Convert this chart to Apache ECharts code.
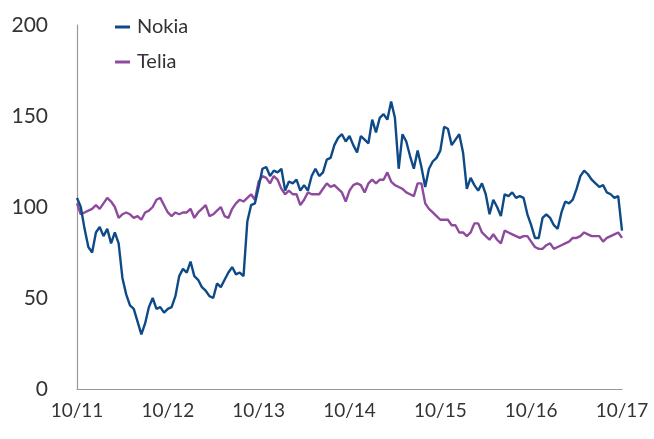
<!DOCTYPE html>
<html>
<head>
<meta charset="utf-8">
<script src="https://cdn.jsdelivr.net/npm/echarts@6/dist/echarts.min.js"></script>
<style>html,body{margin:0;padding:0;background:#fff}#c{width:654px;height:439px}</style>
</head>
<body>
<div id="c"></div>
<script>
// Half-month sampling from 10/11 to 10/17 (145 points)
const xTickLabels = ['10/11','10/12','10/13','10/14','10/15','10/16','10/17'];
const seriesNames = ['Nokia','Telia'];
const nokia = [105,100,88,78,75,86,89,84,88,80,86,80,61,52,46,44,37,30,36,45,
  50,44,45,42,44,45,51,62,66,64,70,62,60,56,54,51,50,58,56,60,
  64,67,63,64,62,92,101,102,111,121,122,117,120,119,121,109,114,113,115,109,
  112,109,117,121,117,119,126,127,134,138,140,136,139,134,130,139,137,135,148,141,
  149,151,148,158,149,121,140,136,128,121,131,122,111,121,125,127,131,144,143,134,
  137,140,130,110,116,112,109,113,107,96,104,100,95,107,106,108,105,106,105,96,
  90,83,83,94,96,94,90,88,97,103,102,104,110,117,120,118,115,113,111,112,
  108,107,105,106,87];
const telia = [102,96,97,98,99,101,99,102,105,103,100,94,96,97,96,94,95,93,97,98,
  100,104,105,101,97,95,97,96,97,97,99,94,97,99,101,95,96,98,100,95,
  94,99,102,104,103,105,107,104,114,117,116,113,117,115,110,107,109,107,107,101,
  104,108,107,107,107,110,113,111,112,110,108,103,109,112,113,112,108,113,115,113,
  115,115,119,114,112,111,110,108,107,106,113,113,102,99,97,95,93,93,93,90,
  90,86,86,84,86,91,91,86,84,82,85,82,80,87,86,85,84,83,84,84,
  81,78,77,77,79,80,77,78,79,80,81,83,83,84,86,85,84,84,84,81,
  83,84,85,86,83];

const pointsPerLabel = 24;
const toPairs = arr => arr.map((v, i) => [i, v]);
const FONT = 'Lato, "Open Sans", sans-serif';

const chart = echarts.init(document.getElementById('c'), null, {renderer: 'canvas'});
chart.setOption({
  animation: false,
  backgroundColor: '#ffffff',
  grid: {left: 77, right: 32, top: 25, bottom: 50, containLabel: false},
  legend: {
    orient: 'vertical', left: 110, top: 12,
    itemWidth: 15, itemHeight: 3, itemGap: 15,
    icon: 'rect',
    textStyle: {fontFamily: FONT, fontSize: 20, color: '#333', padding: [0,0,0,2]},
    data: seriesNames
  },
  xAxis: {
    type: 'value', min: 0, max: (xTickLabels.length - 1) * pointsPerLabel, interval: pointsPerLabel,
    axisLine: {show: true, lineStyle: {color: '#999999', width: 1.2}},
    axisTick: {show: false},
    splitLine: {show: false},
    axisLabel: {
      fontFamily: FONT, fontSize: 19, color: '#333', margin: 12,
      formatter: v => xTickLabels[Math.round(v / pointsPerLabel)] || ''
    }
  },
  yAxis: {
    type: 'value', min: 0, max: 200, interval: 50,
    axisLine: {show: true, lineStyle: {color: '#999999', width: 1.2}},
    axisTick: {show: false},
    splitLine: {show: false},
    axisLabel: {fontFamily: FONT, fontSize: 21, color: '#333', margin: 29}
  },
  series: [
    {name: seriesNames[0], type: 'line', data: toPairs(nokia), showSymbol: false,
     lineStyle: {color: '#0f4a88', width: 2.4}, itemStyle: {color: '#0f4a88'}},
    {name: seriesNames[1], type: 'line', data: toPairs(telia), showSymbol: false,
     lineStyle: {color: '#8e4a9d', width: 2.4}, itemStyle: {color: '#8e4a9d'}, z: 1}
  ]
});
</script>
</body>
</html>
